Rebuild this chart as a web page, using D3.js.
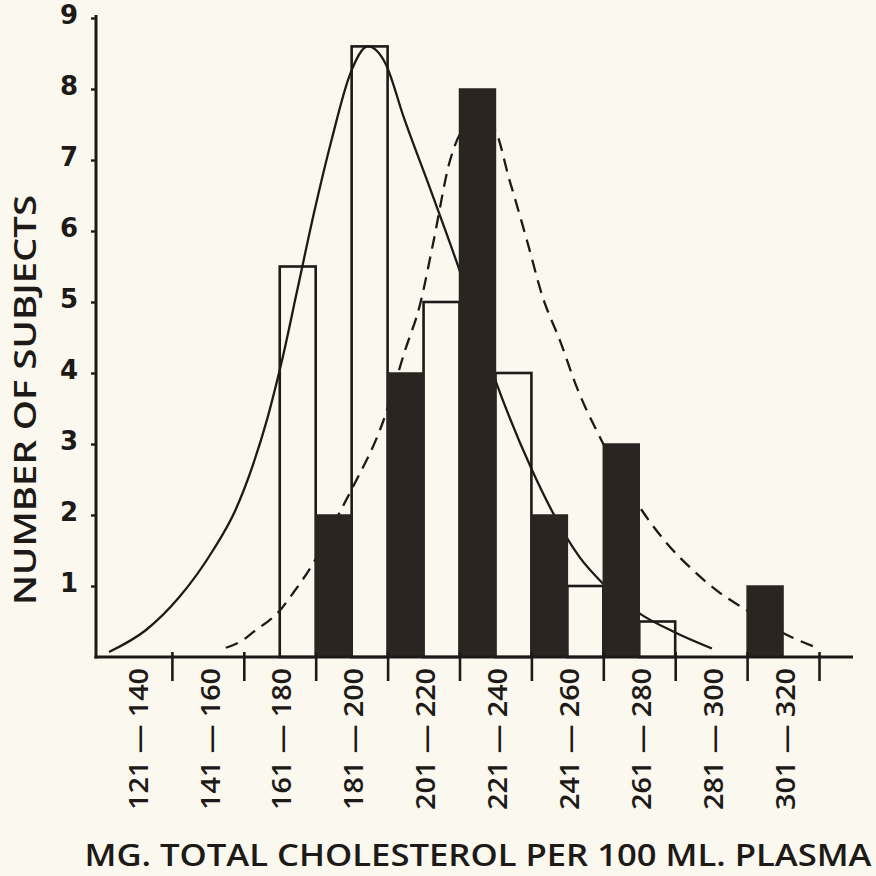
<!DOCTYPE html>
<html>
<head>
<meta charset="utf-8">
<script src="https://cdn.jsdelivr.net/npm/d3@7"></script>
<style>
  html, body { margin: 0; padding: 0; background: #fbf8ef; }
  svg { display: block; }
</style>
</head>
<body>
<div id="chart"></div>
<script>
// bins of total cholesterol (mg / 100 ml)
var binLow  = [121, 141, 161, 181, 201, 221, 241, 261, 281, 301];
var binHigh = [140, 160, 180, 200, 220, 240, 260, 280, 300, 320];

// open bars and solid bars (number of subjects)
var openCounts  = [0, 0, 5.5, 8.6, 5, 4, 1, 0.5, 0, 0];
var solidCounts = [0, 0, 0, 2, 4, 8, 2, 3, 0, 1];

var yTicks = [1, 2, 3, 4, 5, 6, 7, 8, 9];

// fitted curves
var solidCurveX = [123, 133.3, 142.5, 151.9, 158, 163, 167, 171, 175.3, 180, 185, 190, 195, 200, 205, 212.3, 219.8, 229.8, 240.7, 254, 260.1, 271.3, 279.9, 290.7];
var solidCurveY = [0.07, 0.38, 0.84, 1.5, 2.05, 2.7, 3.35, 4.15, 5.15, 6.25, 7.3, 8.2, 8.6, 8.35, 7.6, 6.6, 5.55, 3.99, 2.63, 1.4, 1.05, 0.59, 0.36, 0.12];

var dashedCurveX = [155.5, 160.3, 163.1, 170.6, 174.2, 179.7, 187.3, 190.9, 199.2, 205.3, 209.5, 213.1, 217.9, 223.5, 229.8, 234.5, 239.3, 243.7, 248.5, 253.2, 259.6, 271.3, 278.2, 285.5, 293, 299.4, 311.6, 320];
var dashedCurveY = [0.13, 0.24, 0.35, 0.66, 0.9, 1.31, 2.05, 2.4, 3.31, 4.31, 4.96, 5.81, 7.0, 7.5, 7.45, 6.7, 5.86, 5.06, 4.45, 3.79, 3.09, 2.06, 1.6, 1.22, 0.9, 0.69, 0.31, 0.13];

var W = 876, H = 876;
var ink = '#1d1a17', barInk = '#2a2521';
var font = '"Open Sans", "DejaVu Sans", sans-serif';

var svg = d3.select('#chart').append('svg')
  .attr('width', W).attr('height', H)
  .style('background', '#fbf8ef');

var x = d3.scaleLinear().domain([120.5, 320.5]).range([100, 819]);
var y = d3.scaleLinear().domain([0, 9]).range([657, 18]);

var bins = binLow.map(function(lo, i) {
  return { lo: lo, hi: binHigh[i], open: openCounts[i], solid: solidCounts[i] };
});

// open bars (outline only, curves show through)
svg.append('g').selectAll('rect')
  .data(bins.filter(function(d) { return d.open > 0; }))
  .enter().append('rect')
  .attr('x', function(d) { return x(d.lo + 9.5); })
  .attr('y', function(d) { return y(d.open); })
  .attr('width', function(d) { return x(d.hi + 0.5) - x(d.lo + 9.5); })
  .attr('height', function(d) { return y(0) - y(d.open); })
  .attr('fill', 'none')
  .attr('stroke', ink)
  .attr('stroke-width', 2.6);

var line = d3.line()
  .x(function(d) { return x(d[0]); })
  .y(function(d) { return y(d[1]); })
  .curve(d3.curveMonotoneX);

svg.append('path')
  .datum(d3.zip(solidCurveX, solidCurveY))
  .attr('d', line)
  .attr('fill', 'none')
  .attr('stroke', ink)
  .attr('stroke-width', 2.3);

svg.append('path')
  .datum(d3.zip(dashedCurveX, dashedCurveY))
  .attr('d', line)
  .attr('fill', 'none')
  .attr('stroke', ink)
  .attr('stroke-width', 2.3)
  .attr('stroke-dasharray', '13,8');

// solid bars sit on top and hide the curves
svg.append('g').selectAll('rect')
  .data(bins.filter(function(d) { return d.solid > 0; }))
  .enter().append('rect')
  .attr('x', function(d) { return x(d.lo - 0.5); })
  .attr('y', function(d) { return y(d.solid); })
  .attr('width', function(d) { return x(d.lo + 9.5) - x(d.lo - 0.5); })
  .attr('height', function(d) { return y(0) - y(d.solid); })
  .attr('fill', barInk)
  .attr('stroke', barInk)
  .attr('stroke-width', 1.5);

// y axis
var yAxis = svg.append('g')
  .attr('transform', 'translate(96,0)')
  .call(d3.axisLeft(y).tickValues(yTicks).tickSize(5).tickPadding(13).tickFormat(d3.format('d')));
yAxis.select('.domain').remove();
yAxis.selectAll('line').attr('stroke', ink).attr('stroke-width', 2.4);
yAxis.selectAll('text')
  .attr('fill', ink)
  .style('font-family', '"DejaVu Sans", sans-serif')
  .style('font-weight', 'bold')
  .style('font-size', '26px')
  .attr('dy', '0.2em');

// x axis, ticks at the bin limits
var limits = binHigh.map(function(h) { return h + 0.5; });
var xAxis = svg.append('g')
  .attr('transform', 'translate(0,657)')
  .call(d3.axisBottom(x).tickValues(limits).tickSize(24).tickFormat(''));
xAxis.select('.domain').remove();
xAxis.selectAll('line').attr('y1', -5).attr('stroke', ink).attr('stroke-width', 2.6);

svg.append('line')
  .attr('x1', 96).attr('y1', 15).attr('x2', 96).attr('y2', 658.5)
  .attr('stroke', ink).attr('stroke-width', 3);
svg.append('line')
  .attr('x1', 94.5).attr('y1', 657).attr('x2', 853).attr('y2', 657)
  .attr('stroke', ink).attr('stroke-width', 3);

// bin labels, rotated
svg.append('g').selectAll('text')
  .data(bins)
  .enter().append('text')
  .attr('transform', function(d) { return 'translate(' + (x((d.lo + d.hi) / 2) + 2) + ',668) rotate(-90)'; })
  .attr('text-anchor', 'end')
  .attr('dy', '0.36em')
  .attr('textLength', 142)
  .attr('lengthAdjust', 'spacingAndGlyphs')
  .attr('fill', ink)
  .style('font-family', font)
  .style('font-weight', 600)
  .style('font-size', '27px')
  .text(function(d) { return d.lo + ' — ' + d.hi; });

svg.append('text')
  .attr('transform', 'translate(25,400) rotate(-90)')
  .attr('text-anchor', 'middle')
  .attr('dy', '0.36em')
  .attr('textLength', 410)
  .attr('lengthAdjust', 'spacingAndGlyphs')
  .attr('fill', ink)
  .style('font-family', font)
  .style('font-weight', 600)
  .style('font-size', '30px')
  .text('NUMBER OF SUBJECTS');

svg.append('text')
  .attr('x', 478).attr('y', 866)
  .attr('text-anchor', 'middle')
  .attr('textLength', 787)
  .attr('lengthAdjust', 'spacingAndGlyphs')
  .attr('fill', ink)
  .style('font-family', font)
  .style('font-weight', 600)
  .style('font-size', '30px')
  .text('MG. TOTAL CHOLESTEROL PER 100 ML. PLASMA');
</script>
</body>
</html>
